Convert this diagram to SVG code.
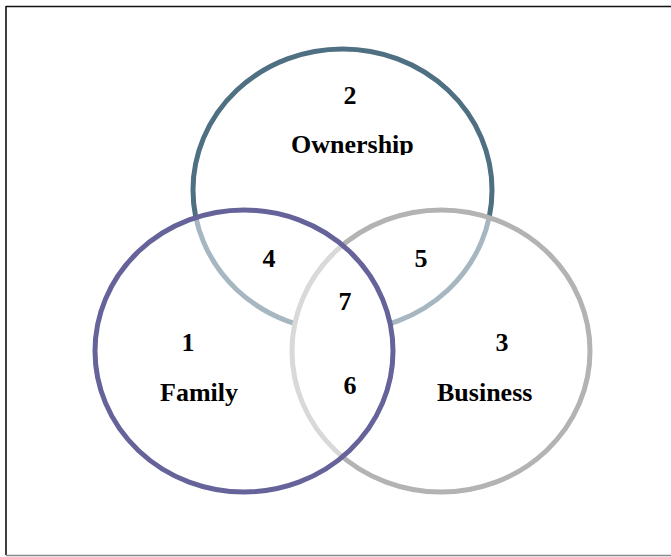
<svg xmlns="http://www.w3.org/2000/svg" width="671" height="557" viewBox="0 0 671 557">
  <style>
    .lbl { font-family: "Liberation Serif", "Times New Roman", serif; font-weight: bold; font-size: 26px; fill: #000; }
    .ring { stroke-width: 5; }
  </style>
  <defs>
    <clipPath id="clipTop">
      <rect x="0" y="0" width="671" height="155"/>
    </clipPath>
    <clipPath id="famArea">
      <ellipse cx="244" cy="351" rx="149" ry="141"/>
    </clipPath>
    <!-- the ownership ring is not drawn inside the family/business overlap -->
    <mask id="ownMask" maskUnits="userSpaceOnUse" x="0" y="0" width="671" height="557">
      <rect x="0" y="0" width="671" height="557" fill="#fff"/>
      <ellipse cx="441" cy="351" rx="149" ry="141" fill="#000" clip-path="url(#famArea)"/>
    </mask>
  </defs>

  <!-- frame -->
  <rect x="0" y="0" width="671" height="557" fill="#fff"/>
  <line x1="6" y1="6.5" x2="671" y2="6.5" stroke="#111" stroke-width="1.6"/>
  <line x1="6" y1="6" x2="6" y2="555" stroke="#111" stroke-width="1.6"/>
  <line x1="6" y1="555.5" x2="671" y2="555.5" stroke="#888" stroke-width="1.4"/>

  <!-- circles: later ones carry a half-transparent white fill that softens the rings beneath -->
  <g id="ownership">
    <ellipse class="ring" cx="342.5" cy="190" rx="149.5" ry="141" fill="none" stroke="#4f6f82" mask="url(#ownMask)"/>
  </g>
  <g id="business">
    <ellipse class="ring" cx="441" cy="351" rx="149" ry="141" fill="#fff" fill-opacity="0.5" stroke="#b3b3b3"/>
  </g>
  <g id="family">
    <ellipse class="ring" cx="244" cy="351" rx="149" ry="141" fill="#fff" fill-opacity="0.5" stroke="#65639a"/>
  </g>

  <g id="connectors"></g>

  <!-- labels -->
  <g id="labels">
    <text class="lbl" x="350" y="104" text-anchor="middle">2</text>
    <text class="lbl" x="291" y="153" clip-path="url(#clipTop)">Ownership</text>
    <text class="lbl" x="269" y="267" text-anchor="middle">4</text>
    <text class="lbl" x="421" y="267" text-anchor="middle">5</text>
    <text class="lbl" x="345" y="310" text-anchor="middle">7</text>
    <text class="lbl" x="188" y="351" text-anchor="middle">1</text>
    <text class="lbl" x="502" y="351" text-anchor="middle">3</text>
    <text class="lbl" x="160" y="401">Family</text>
    <text class="lbl" x="350" y="394" text-anchor="middle">6</text>
    <text class="lbl" x="437" y="401">Business</text>
  </g>
</svg>
